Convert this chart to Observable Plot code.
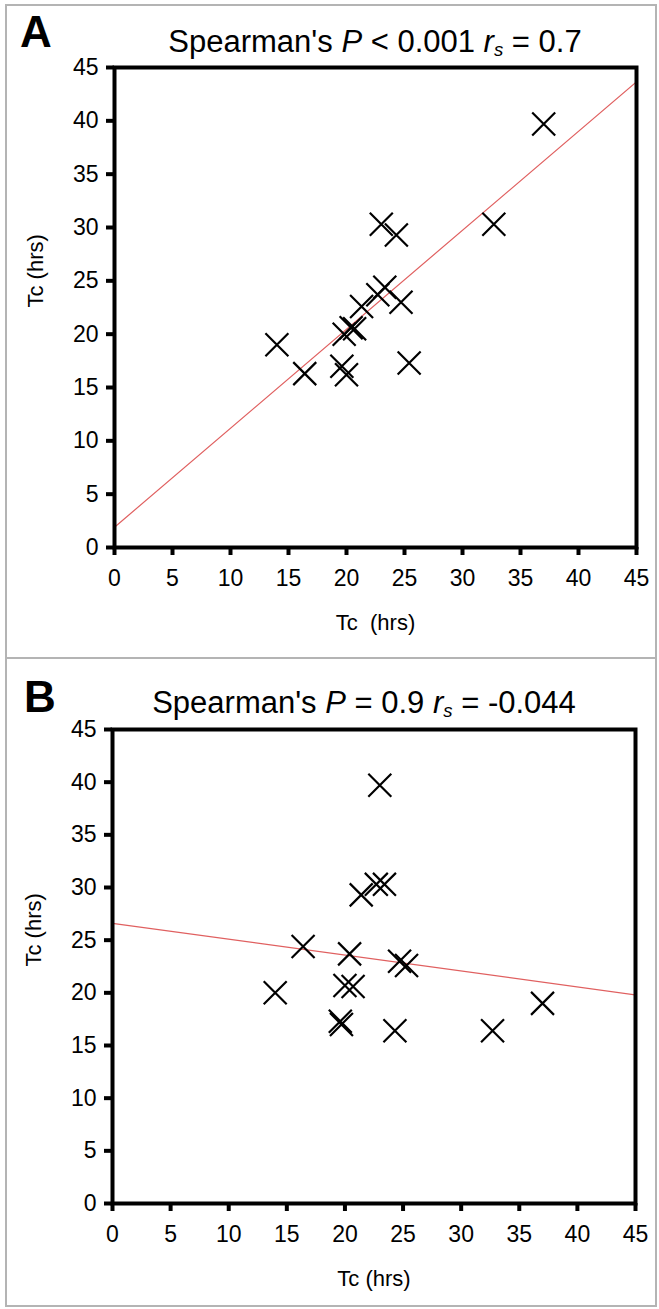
<!DOCTYPE html>
<html>
<head>
<meta charset="utf-8">
<script src="https://cdn.jsdelivr.net/npm/d3@7"></script>
<script src="https://cdn.jsdelivr.net/npm/@observablehq/plot@0.6"></script>
<style>
  html, body { margin: 0; padding: 0; background: #fff; }
  #page { position: relative; width: 659px; height: 1309px; overflow: hidden; font-family: "Liberation Sans", Arial, sans-serif; color: #000; }
  .frame { position: absolute; border: 2px solid #b4b4b4; box-sizing: border-box; }
  .letter { position: absolute; font-weight: bold; font-size: 44px; line-height: 1; }
  .title { position: absolute; font-size: 31px; line-height: 1; white-space: nowrap; transform: translateX(-50%); }
  .title sub { font-size: 0.6em; vertical-align: -0.22em; line-height: 0; }
  .chart { position: absolute; left: 0; }
</style>
</head>
<body>
<div id="page">
  <div class="frame" style="left:5px; top:4px; width:652px; height:655px;"></div>
  <div class="frame" style="left:5px; top:657px; width:652px; height:650px;"></div>
  <div class="letter" style="left:20px; top:10px;">A</div>
  <div class="title" style="left:375px; top:26px;">Spearman's <i>P</i> &lt; 0.001 <i>r<sub>s</sub></i> = 0.7</div>
  <div class="letter" style="left:24px; top:675px;">B</div>
  <div class="title" style="left:364px; top:687px;">Spearman's <i>P</i> = 0.9 <i>r<sub>s</sub></i> = -0.044</div>
  <div id="chartA" class="chart" style="top:0px;"></div>
  <div id="chartB" class="chart" style="top:654px;"></div>
</div>
<script>
// Panel A data (x = Tc hrs, y = Tc hrs)
const xA = [37.0, 32.7, 23.0, 24.3, 23.3, 22.7, 24.7, 21.3, 19.8, 20.4, 20.7, 14.0, 16.4, 19.6, 20.0, 25.4];
const yA = [39.7, 30.3, 30.3, 29.3, 24.4, 23.7, 23.0, 22.6, 20.0, 20.6, 20.5, 19.0, 16.3, 17.0, 16.2, 17.3];
// Panel B data
const xB = [23.0, 22.7, 23.4, 21.4, 16.4, 20.4, 24.7, 25.3, 20.0, 20.7, 14.0, 37.0, 19.6, 19.7, 24.3, 32.7];
const yB = [39.7, 30.3, 30.3, 29.3, 24.4, 23.7, 23.0, 22.6, 20.7, 20.6, 20.0, 19.0, 17.3, 17.0, 16.4, 16.4];
// Fitted lines (intercept, slope)
const fitIntercept = [1.9, 26.6];
const fitSlope = [0.928, -0.151];
const lineX = [0, 45];
const ticks = [0, 5, 10, 15, 20, 25, 30, 35, 40, 45];
const xLabels = ["Tc\u00a0\u00a0(hrs)", "Tc (hrs)"];
const yLabel = "Tc (hrs)";

function panel(xs, ys, k, opts) {
  const pts = xs.map((x, i) => ({x, y: ys[i]}));
  const line = lineX.map(x => ({x, y: fitIntercept[k] + fitSlope[k] * x}));
  const svg = Plot.plot({
    width: 659,
    height: opts.height,
    marginLeft: opts.left,
    marginRight: opts.right,
    marginTop: opts.top,
    marginBottom: opts.bottom,
    x: {domain: [0, 45]},
    y: {domain: [0, 45]},
    style: {fontFamily: "'Liberation Sans', Arial, sans-serif", fontSize: "23px", color: "#000", background: "transparent", overflow: "visible"},
    marks: [
      Plot.line(line, {x: "x", y: "y", stroke: "#e06060", strokeWidth: 1.2, clip: true}),
      Plot.dot(pts, {x: "x", y: "y", symbol: "times", r: 10.5, stroke: "#000", strokeWidth: 2.2}),
      Plot.frame({stroke: "#000", strokeWidth: 4}),
      Plot.axisX({ticks, tickSize: 8, tickPadding: 14, strokeWidth: 4, label: null, fontSize: 23}),
      Plot.axisY({ticks, tickSize: 8, tickPadding: 8, strokeWidth: 4, label: null, fontSize: 23}),
      Plot.text([xLabels[k]], {text: d => d, frameAnchor: "bottom", dy: 82, fontSize: 22}),
      Plot.text([yLabel], {text: d => d, frameAnchor: "left", dx: -79, rotate: -90, fontSize: 22})
    ]
  });
  // make the axis box and ticks heavy, as in the reference
  d3.select(svg).selectAll('[aria-label="frame"], [aria-label="frame"] *').attr("stroke-width", 4).style("stroke-width", "4px");
  d3.select(svg).selectAll('[aria-label$="axis tick"], [aria-label$="axis tick"] *').attr("stroke-width", 4).style("stroke-width", "4px");
  return svg;
}

document.getElementById("chartA").appendChild(panel(xA, yA, 0, {height: 654, left: 114, right: 23, top: 67, bottom: 107}));
document.getElementById("chartB").appendChild(panel(xB, yB, 1, {height: 655, left: 112, right: 24, top: 75, bottom: 106}));
</script>
</body>
</html>
